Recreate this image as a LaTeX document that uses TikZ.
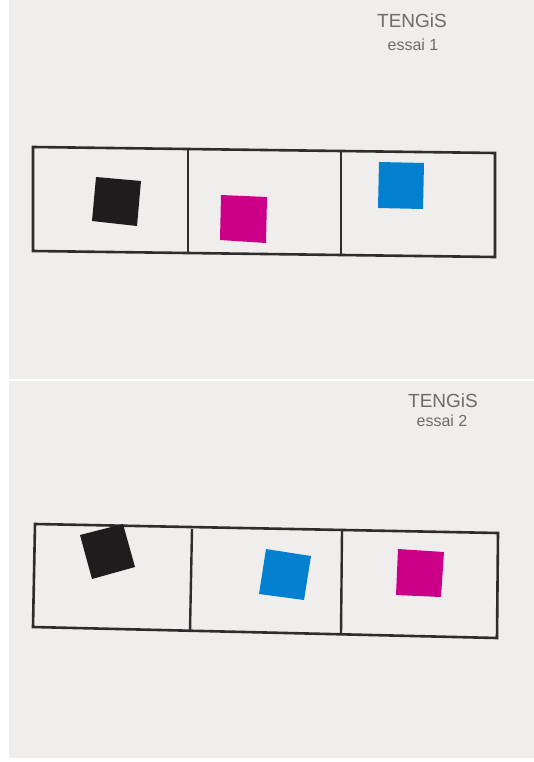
\documentclass[tikz,border=0pt]{standalone}
\usepackage{fontspec}
\setmainfont{Liberation Sans}
\definecolor{paper}{HTML}{F0EEEC}
\definecolor{ink}{HTML}{2E2C2C}
\definecolor{tileblack}{HTML}{1E1C1D}
\definecolor{tilemagenta}{HTML}{CC0088}
\definecolor{tileblue}{HTML}{0480D0}

\begin{document}
\begin{tikzpicture}[
    x=1pt, y=-1pt,
    sheet/.style={fill=paper, draw=none},
    frame/.style={draw=ink, line width=2.6pt, line join=miter},
    divider/.style={draw=ink, line width=2.4pt},
    tile/.style={draw=none},
    pupil/.style={text=ink!70, font=\fontsize{19}{19}\selectfont, inner sep=0pt},
    trial/.style={text=ink!70, font=\fontsize{16}{16}\selectfont, inner sep=0pt}
]
    \useasboundingbox (0,0) rectangle (534,762);
    \fill[white] (0,0) rectangle (534,762);

    % two scanned sheets
    \path[sheet] (9,0) rectangle (534,379);
    \path[sheet] (9,381) rectangle (534,758);

    % first trial
    \node[pupil] (pupil1) at (412,21) {TENGiS};
    \node[trial] (trial1) at (413,45) {essai 1};
    \draw[frame] (33,147) -- (495,153) -- (495,257) -- (33,251) -- cycle;
    \draw[divider] (188,149) -- (188,253);
    \draw[divider] (341,151) -- (341,255);
    \fill[tile, tileblack] (96,177) -- (141,181) -- (137,226) -- (92,221) -- cycle;
    \fill[tile, tilemagenta] (221,195) -- (267,197) -- (266,243) -- (220,240) -- cycle;
    \fill[tile, tileblue] (379,162) -- (424,163) -- (423,209) -- (378,208) -- cycle;

    % second trial
    \node[pupil] (pupil2) at (443,401) {TENGiS};
    \node[trial] (trial2) at (442,421) {essai 2};
    \draw[frame] (35,524) -- (498,533) -- (497,638) -- (33,627) -- cycle;
    \draw[divider] (192,529) -- (190,631);
    \draw[divider] (342,531) -- (341,634);
    \fill[tile, tileblack] (80,535) -- (123,524) -- (135,567) -- (92,579) -- cycle;
    \fill[tile, tileblue] (266,549) -- (311,556) -- (304,600) -- (259,594) -- cycle;
    \fill[tile, tilemagenta] (398,549) -- (444,552) -- (441,597) -- (396,595) -- cycle;
\end{tikzpicture}
\end{document}
